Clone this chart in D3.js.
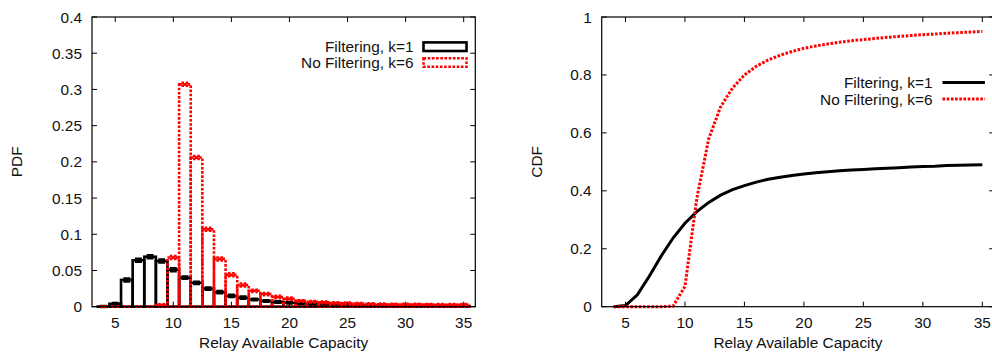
<!DOCTYPE html>
<html>
<head>
<meta charset="utf-8">
<script src="https://cdn.jsdelivr.net/npm/d3@7"></script>
<style>
  html, body { margin: 0; padding: 0; background: #fff; }
  svg { display: block; }
  text { font-family: "Liberation Sans", Arial, Helvetica, sans-serif; fill: #111; }
</style>
</head>
<body>
<svg id="chart" width="992" height="354"></svg>
<script>
// Relay available capacity (bins)
const capacity = [4,5,6,7,8,9,10,11,12,13,14,15,16,17,18,19,20,21,22,23,24,25,26,27,28,29,30,31,32,33,34,35];

// PDF, Filtering k=1
const pdfFilter = [0.0003,0.004,0.037,0.064,0.069,0.063,0.051,0.040,0.033,0.025,0.020,0.0148,0.0124,0.010,0.008,0.0065,0.0055,0.0045,0.0038,0.0032,0.0028,0.0024,0.0021,0.0019,0.0017,0.0015,0.0014,0.0013,0.0012,0.0011,0.001,0.001];
const errFilter = [0.0005,0.001,0.002,0.002,0.002,0.002,0.002,0.0015,0.0015,0.0015,0.0015,0.0015,0.0015,0.001,0.001,0.001,0.001,0.001,0.001,0.001,0.001,0.001,0.001,0.001,0.001,0.001,0.001,0.001,0.001,0.001,0.001,0.001];

// PDF, No Filtering k=6
const pdfNoFilter = [0,0,0,0,0,0.0023,0.068,0.307,0.206,0.107,0.066,0.044,0.030,0.022,0.0175,0.0134,0.011,0.008,0.0068,0.006,0.0052,0.0046,0.0042,0.0038,0.0034,0.0031,0.003,0.0029,0.0028,0.0027,0.0026,0.0025];
const errNoFilter = [0,0,0,0,0,0.001,0.002,0.002,0.002,0.002,0.002,0.002,0.002,0.0015,0.0015,0.0015,0.0015,0.001,0.001,0.001,0.001,0.001,0.001,0.001,0.001,0.001,0.001,0.001,0.001,0.001,0.001,0.001];

// CDF curves
const cdfFilter = [0,0.004,0.041,0.105,0.175,0.237,0.288,0.328,0.36,0.385,0.404,0.418,0.43,0.44,0.447,0.453,0.458,0.462,0.466,0.469,0.472,0.474,0.476,0.478,0.48,0.482,0.484,0.485,0.487,0.488,0.489,0.49];
const cdfNoFilter = [0,0,0,0,0,0.002,0.07,0.375,0.58,0.69,0.755,0.80,0.83,0.852,0.868,0.881,0.892,0.90,0.907,0.913,0.918,0.922,0.926,0.930,0.933,0.936,0.939,0.941,0.944,0.946,0.948,0.95];

// Axis ticks
const xTicks = [5,10,15,20,25,30,35];
const pdfTicks = [0,0.05,0.1,0.15,0.2,0.25,0.3,0.35,0.4];
const cdfTicks = [0,0.2,0.4,0.6,0.8,1];
const pdfTickLabels = ["0","0.05","0.1","0.15","0.2","0.25","0.3","0.35","0.4"];
const cdfTickLabels = ["0","0.2","0.4","0.6","0.8","1"];

const seriesNames = ["Filtering, k=1", "No Filtering, k=6"];
const xTitle = "Relay Available Capacity";

const svg = d3.select("#chart");
const FONT = 15.4;
const RED = "#f00";
const DOTS = "2.6,1.6";

function frame(g, x, y, yTicks, yLabels, yTitle, yTitleX) {
  const [x0, x1] = x.range();
  const [y0, y1] = y.range();
  const tl = 5;
  // x ticks bottom and top (inward)
  xTicks.forEach(t => {
    g.append("line").attr("x1", x(t)).attr("x2", x(t)).attr("y1", y0).attr("y2", y0 - tl).attr("stroke", "#000");
    g.append("line").attr("x1", x(t)).attr("x2", x(t)).attr("y1", y1).attr("y2", y1 + tl).attr("stroke", "#000");
    g.append("text").attr("x", x(t)).attr("y", y0 + 21).attr("text-anchor", "middle")
      .attr("font-size", FONT).text(t);
  });
  yTicks.forEach((t, i) => {
    g.append("line").attr("x1", x0).attr("x2", x0 + tl).attr("y1", y(t)).attr("y2", y(t)).attr("stroke", "#000");
    g.append("line").attr("x1", x1).attr("x2", x1 - tl).attr("y1", y(t)).attr("y2", y(t)).attr("stroke", "#000");
    g.append("text").attr("x", x0 - 10).attr("y", y(t)).attr("dy", "0.36em").attr("text-anchor", "end")
      .attr("font-size", FONT).text(yLabels[i]);
  });
  g.append("rect").attr("x", x0).attr("y", y1).attr("width", x1 - x0).attr("height", y0 - y1)
    .attr("fill", "none").attr("stroke", "#000").attr("stroke-width", 1.2);
  g.append("text").attr("x", (x0 + x1) / 2).attr("y", 348).attr("text-anchor", "middle")
    .attr("font-size", FONT).text(xTitle);
  g.append("text").attr("transform", `translate(${yTitleX},${(y0 + y1) / 2}) rotate(-90)`)
    .attr("text-anchor", "middle").attr("font-size", FONT).text(yTitle);
}

// ---------- PDF panel ----------
{
  const x = d3.scaleLinear().domain([3, 36]).range([92, 475.3]);
  const y = d3.scaleLinear().domain([0, 0.4]).range([306.7, 17]);
  const g = svg.append("g");
  const clip = g.append("clipPath").attr("id", "clipL").append("rect")
    .attr("x", 92).attr("y", 17).attr("width", 475.3 - 92).attr("height", 306.7 - 17 + 3);
  const plot = g.append("g").attr("clip-path", "url(#clipL)");

  function boxes(values, errs, style) {
    const s = plot.append("g").attr("fill", "none").attr("stroke", style.color)
      .attr("stroke-width", style.width).attr("stroke-dasharray", style.dash);
    s.selectAll("rect").data(capacity).join("rect")
      .attr("x", d => x(d - 0.5)).attr("width", d => x(d + 0.5) - x(d - 0.5))
      .attr("y", (d, i) => y(values[i])).attr("height", (d, i) => y(0) - y(values[i]));
    const e = s.selectAll("g.err").data(capacity).join("g").attr("class", "err");
    e.append("line").attr("x1", d => x(d)).attr("x2", d => x(d))
      .attr("y1", (d, i) => y(values[i] - errs[i])).attr("y2", (d, i) => y(values[i] + errs[i]));
    e.append("line").attr("x1", d => x(d) - 3.5).attr("x2", d => x(d) + 3.5)
      .attr("y1", (d, i) => y(values[i] - errs[i])).attr("y2", (d, i) => y(values[i] - errs[i]));
    e.append("line").attr("x1", d => x(d) - 3.5).attr("x2", d => x(d) + 3.5)
      .attr("y1", (d, i) => y(values[i] + errs[i])).attr("y2", (d, i) => y(values[i] + errs[i]));
  }
  boxes(pdfFilter, errFilter, { color: "#000", width: 2.6, dash: null });
  boxes(pdfNoFilter, errNoFilter, { color: RED, width: 2.6, dash: DOTS });

  frame(g, x, y, pdfTicks, pdfTickLabels, "PDF", 22);

  // legend
  const lg = g.append("g");
  seriesNames.forEach((name, i) => {
    const cy = 46.7 + i * 15.8;
    lg.append("text").attr("x", 413.5).attr("y", cy).attr("dy", "0.36em").attr("text-anchor", "end")
      .attr("font-size", FONT).text(name);
    lg.append("rect").attr("x", 423.5).attr("y", cy - 4.3).attr("width", 43).attr("height", 8.6)
      .attr("fill", "none").attr("stroke", i ? RED : "#000").attr("stroke-width", 2.6)
      .attr("stroke-dasharray", i ? DOTS : null);
  });
}

// ---------- CDF panel ----------
{
  const x = d3.scaleLinear().domain([3, 36]).range([601.7, 994.2]);
  const y = d3.scaleLinear().domain([0, 1]).range([306.7, 17]);
  const g = svg.append("g");
  const line = d3.line().x(d => x(d[0])).y(d => y(d[1]));

  g.append("path").datum(capacity.map((c, i) => [c, cdfFilter[i]])).attr("d", line)
    .attr("fill", "none").attr("stroke", "#000").attr("stroke-width", 3);
  g.append("path").datum(capacity.map((c, i) => [c, cdfNoFilter[i]])).attr("d", line)
    .attr("fill", "none").attr("stroke", RED).attr("stroke-width", 3).attr("stroke-dasharray", DOTS);

  frame(g, x, y, cdfTicks, cdfTickLabels, "CDF", 542);

  const lg = g.append("g");
  seriesNames.forEach((name, i) => {
    const cy = 82.5 + i * 16.5;
    lg.append("text").attr("x", 932.5).attr("y", cy).attr("dy", "0.36em").attr("text-anchor", "end")
      .attr("font-size", FONT).text(name);
    lg.append("line").attr("x1", 942.5).attr("x2", 985).attr("y1", cy).attr("y2", cy)
      .attr("stroke", i ? RED : "#000").attr("stroke-width", 3)
      .attr("stroke-dasharray", i ? DOTS : null);
  });
}
</script>
</body>
</html>
